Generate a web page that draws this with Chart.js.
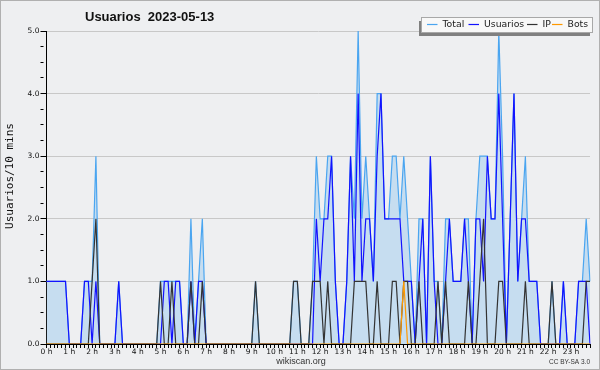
<!DOCTYPE html>
<html>
<head>
<meta charset="utf-8">
<script src="https://cdn.jsdelivr.net/npm/chart.js@4.4.0/dist/chart.umd.min.js"></script>
<style>
  html, body { margin: 0; padding: 0; background: #eeeff1; }
</style>
</head>
<body>
<canvas id="myChart" width="600" height="370"></canvas>
<script>
// one value per 10 minutes, 00:00 .. 23:50
const hourLabels = ['0 h', '1 h', '2 h', '3 h', '4 h', '5 h', '6 h', '7 h', '8 h', '9 h', '10 h', '11 h',
  '12 h', '13 h', '14 h', '15 h', '16 h', '17 h', '18 h', '19 h', '20 h', '21 h', '22 h', '23 h']

const total = [
  1,1,1,1,1,1,0,0,0,0,1,1,
  1,3,0,0,0,0,0,1,0,0,0,0,
  0,0,0,0,0,0,1,1,1,1,1,1,
  0,0,2,0,1,2,0,0,0,0,0,0,
  0,0,0,0,0,0,0,1,0,0,0,0,
  0,0,0,0,0,1,1,0,0,0,1,3,
  2,2,3,3,1,0,0,1,3,2,5,2,
  3,2,1,4,4,2,2,3,3,2,3,2,
  1,0,2,2,0,3,1,1,0,2,2,1,
  1,1,2,2,0,2,3,3,3,2,2,5,
  3,0,2,4,1,2,3,1,1,1,0,0,
  0,1,0,0,1,0,0,0,1,1,2,1,
]

const usuarios = [
  1,1,1,1,1,1,0,0,0,0,1,1,
  0,1,0,0,0,0,0,1,0,0,0,0,
  0,0,0,0,0,0,0,1,1,0,1,1,
  0,0,1,0,1,1,0,0,0,0,0,0,
  0,0,0,0,0,0,0,0,0,0,0,0,
  0,0,0,0,0,0,0,0,0,0,0,2,
  1,2,2,3,1,0,0,1,3,1,4,1,
  2,2,1,3,4,2,2,2,2,2,1,1,
  1,0,1,2,0,3,1,0,0,1,2,1,
  1,1,2,1,0,2,2,1,3,2,2,4,
  2,0,2,4,1,2,2,1,1,1,0,0,
  0,0,0,0,1,0,0,0,1,1,1,0,
]

const ip = [
  0,0,0,0,0,0,0,0,0,0,0,0,
  1,2,0,0,0,0,0,0,0,0,0,0,
  0,0,0,0,0,0,1,0,0,1,0,0,
  0,0,1,0,0,1,0,0,0,0,0,0,
  0,0,0,0,0,0,0,1,0,0,0,0,
  0,0,0,0,0,1,1,0,0,0,1,1,
  1,0,1,0,0,0,0,0,0,1,1,1,
  1,0,0,1,0,0,0,1,1,0,1,1,
  0,0,1,0,0,0,0,1,0,1,0,0,
  0,0,0,1,0,0,1,2,0,0,0,1,
  1,0,0,0,0,0,1,0,0,0,0,0,
  0,1,0,0,0,0,0,0,0,0,1,1,
]

const bots = [
  0,0,0,0,0,0,0,0,0,0,0,0,
  0,0,0,0,0,0,0,0,0,0,0,0,
  0,0,0,0,0,0,0,0,0,0,0,0,
  0,0,0,0,0,0,0,0,0,0,0,0,
  0,0,0,0,0,0,0,0,0,0,0,0,
  0,0,0,0,0,0,0,0,0,0,0,0,
  0,0,0,0,0,0,0,0,0,0,0,0,
  0,0,0,0,0,0,0,0,0,0,1,0,
  0,0,0,0,0,0,0,0,0,0,0,0,
  0,0,0,0,0,0,0,0,0,0,0,0,
  0,0,0,0,0,0,0,0,0,0,0,0,
  0,0,0,0,0,0,0,0,0,0,0,0,
]

const colTotal = '#4aa5f0'
const colUsers = '#1212ff'
const colIp = '#333333'
const colBots = '#ff9900'

const slots = total.map((v, i) => Math.floor(i / 6) + ':' + (i % 6) + '0')

Chart.defaults.font.family = 'DejaVu Sans'
Chart.defaults.color = '#111'

const frame = {
  id: 'frame',
  beforeDraw(chart) {
    const c = chart.ctx
    c.save()
    c.fillStyle = '#eeeff1'
    c.fillRect(0, 0, chart.width, chart.height)
    c.strokeStyle = '#b0b0b0'
    c.lineWidth = 1
    c.strokeRect(0.5, 0.5, chart.width - 1, chart.height - 1)
    c.restore()
  },
  afterDraw(chart) {
    const c = chart.ctx
    c.save()
    c.fillStyle = '#111'
    c.textBaseline = 'middle'

    // title
    c.font = 'bold 13px "Liberation Sans"'
    c.fillText('Usuarios  2023-05-13', 85, 17)

    // footer
    c.font = '9px "Liberation Sans"'
    c.textAlign = 'center'
    c.fillStyle = '#333'
    c.fillText('wikiscan.org', 301, 362)
    c.font = '6.5px "Liberation Sans"'
    c.textAlign = 'right'
    c.fillText('CC BY-SA 3.0', 590, 362)

    // y title
    c.save()
    c.translate(10, 176)
    c.rotate(-Math.PI / 2)
    c.textAlign = 'center'
    c.fillStyle = '#111'
    c.font = '11px "DejaVu Sans Mono"'
    c.fillText('Usuarios/10 mins', 0, 0)
    c.restore()

    // legend
    c.fillStyle = '#808080'
    c.fillRect(419, 21, 171, 15)
    c.fillStyle = '#f8f8f8'
    c.fillRect(422, 17, 171, 15)
    c.strokeStyle = '#a8a8a8'
    c.strokeRect(421.5, 17.5, 171, 15)
    const items = [
      ['Total', colTotal, 427],
      ['Usuarios', colUsers, 468.5],
      ['IP', colIp, 527],
      ['Bots', colBots, 552]
    ]
    c.textAlign = 'left'
    c.font = '9.3px "DejaVu Sans"'
    items.forEach(([t, col, x]) => {
      c.strokeStyle = col
      c.lineWidth = 1.2
      c.beginPath()
      c.moveTo(x, 24.5)
      c.lineTo(x + 10.5, 24.5)
      c.stroke()
      c.fillStyle = '#222'
      c.fillText(t, x + 15.5, 25)
    })
    c.restore()
  }
}

const ctx = document.getElementById('myChart')

const data = {
  labels: slots,
  datasets: [{
    label: 'Total',
    data: total,
    borderColor: colTotal,
    backgroundColor: '#c6ddf0',
    fill: 'origin',
    order: 4
  }, {
    label: 'Usuarios',
    data: usuarios,
    borderColor: colUsers,
    fill: false,
    order: 3
  }, {
    label: 'IP',
    data: ip,
    borderColor: colIp,
    fill: false,
    order: 2
  }, {
    label: 'Bots',
    data: bots,
    borderColor: colBots,
    fill: false,
    order: 1
  }]
}

const config = {
  type: 'line',
  data: data,
  options: {
    responsive: false,
    animation: false,
    events: [],
    layout: { padding: { top: 31, right: 10, left: 0, bottom: 0 } },
    elements: {
      line: { borderWidth: 1.2, tension: 0 },
      point: { radius: 0 }
    },
    plugins: {
      legend: { display: false },
      title: { display: false },
      tooltip: { enabled: false }
    },
    scales: {
      x: {
        z: 2,
        offset: false,
        afterFit(scale) { scale.height = 26 },
        border: { display: true, color: '#000', width: 1 },
        grid: { drawOnChartArea: false, drawTicks: true, tickLength: 4, tickColor: '#000' },
        ticks: {
          autoSkip: false,
          maxRotation: 0,
          minRotation: 0,
          padding: 0,
          font: { size: 7.5 },
          callback: (v, i) => (i % 6 === 0 ? hourLabels[i / 6] : '')
        }
      },
      y: {
        z: 1,
        min: 0,
        max: 5,
        afterFit(scale) { scale.width = 46.5 },
        border: { display: true, color: '#000', width: 1 },
        grid: {
          color: c => (c.tick && c.tick.value % 1 === 0 ? '#c8c8c8' : 'rgba(0,0,0,0)'),
          tickColor: '#000',
          tickLength: 6,
          tickBorderDash: c => (c.tick && c.tick.value % 1 === 0 ? [] : [3, 10])
        },
        ticks: {
          stepSize: 0.25,
          maxTicksLimit: 30,
          padding: 1,
          font: { size: 7.5 },
          callback: v => (v % 1 === 0 ? v.toFixed(1) : '')
        }
      }
    }
  },
  plugins: [frame]
}

const myChart = new Chart(ctx, config)
</script>
</body>
</html>
